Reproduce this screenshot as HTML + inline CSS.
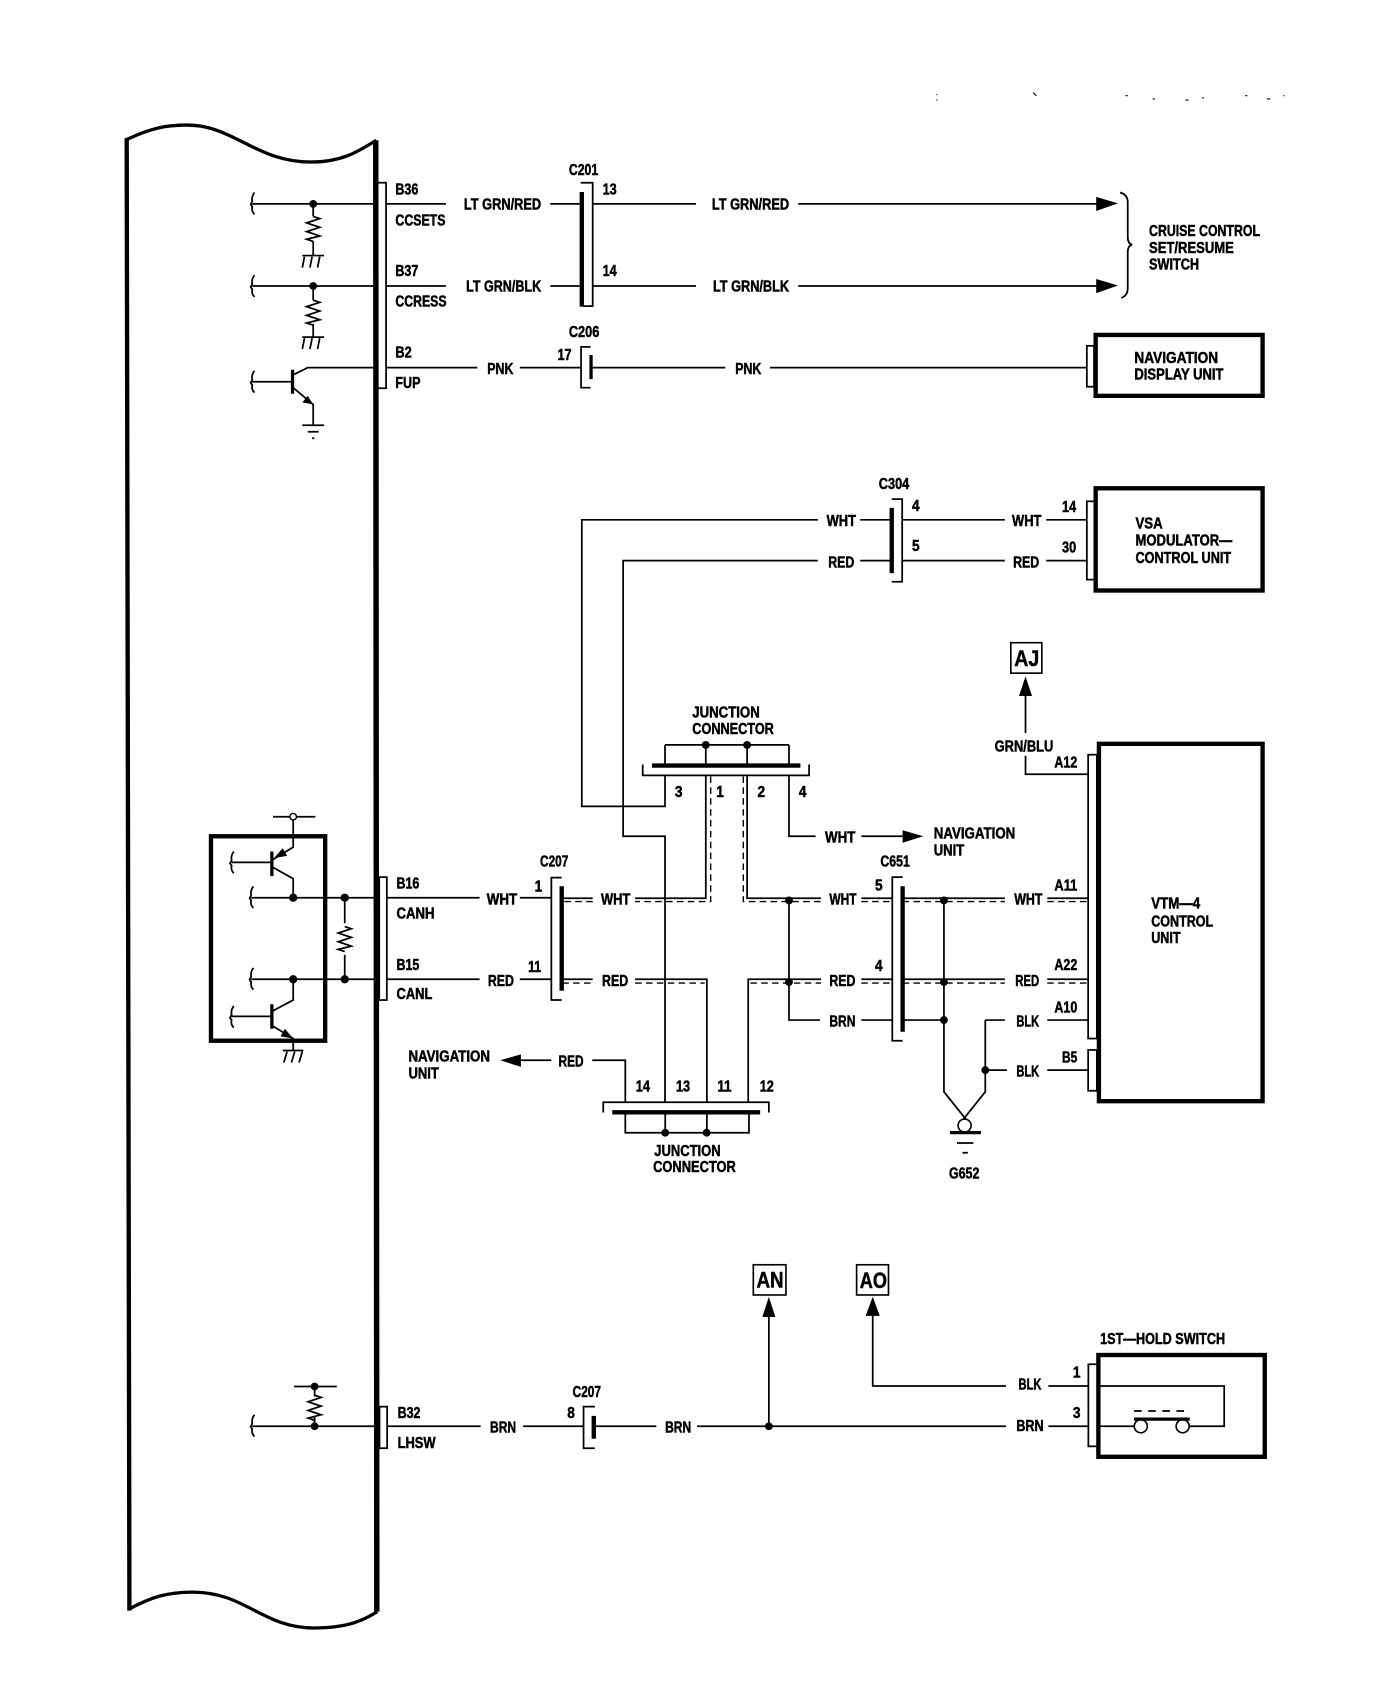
<!DOCTYPE html>
<html><head><meta charset="utf-8"><title>Wiring diagram</title>
<style>
html,body{margin:0;padding:0;background:#fff;width:1392px;height:1708px;overflow:hidden}
svg{display:block}
text{font-family:"Liberation Sans",sans-serif;font-weight:bold;font-size:14px;dominant-baseline:central;fill:#000;stroke:#000;stroke-width:.45;transform:translate(.6px,.7px)}
.w{fill:none;stroke:#000;stroke-width:1.6}
.d{fill:none;stroke:#000;stroke-width:1.3;stroke-dasharray:6 4}
.h{fill:none;stroke:#000;stroke-width:4}
.b{fill:none;stroke:#000;stroke-width:5}
.c{fill:none;stroke:#000;stroke-width:3}
.f{fill:#000;stroke:none}
</style></head><body>
<svg xmlns="http://www.w3.org/2000/svg" width="1392" height="1708" viewBox="0 0 1280 1570.6" preserveAspectRatio="none">
<defs>
<path id="br" class="w" d="M2 -10 Q-1 -6 0 -2 L-1.5 1 L0 3 Q-1 7 2 10"/>
<path id="rs" class="w" d="M0 -11 L6 -9 L-6 -5 L6 -1 L-6 3 L6 7 L-6 10 L0 12"/>
<g id="gh"><path class="w" d="M-10 0 H10 M-8 1 L-10 11 M-1 1 L-3 11 M6 1 L4 11"/></g>
</defs>

<!-- main ECU outline -->
<path class="c" d="M115 129 C140 117 155 115 172 115 C215 115 235 149 286 149 C316 149 331 138 346 129"/>
<path class="c" d="M118 1480 C140 1468 155 1464 177 1464 C226 1464 241 1497 289 1497 C321 1497 336 1489 347 1482"/>
<path class="h" d="M116.500 127 L119 1481"/>
<path class="b" d="M345.500 129 L346.500 1482"/>

<!-- top rows -->
<rect class="w" x="347" y="168" width="8" height="189"/>
<path class="w" d="M232 187.500 H345 M288 187.500 V199 M288 222 V235 M232 263 H345 M288 263 V276 M288 298 V310"/>
<use href="#br" x="232" y="187"/><use href="#br" x="232" y="263"/><use href="#br" x="232" y="351"/>
<circle class="f" cx="288" cy="187.500" r="3.600"/><circle class="f" cx="288" cy="263" r="3.600"/>
<use href="#rs" x="288" y="210"/><use href="#rs" x="288" y="287"/>
<use href="#gh" x="288" y="235"/><use href="#gh" x="288" y="310"/>
<path class="w" d="M232 351 H269 M269 345 L283 338 H345 M269 356 L288 372 V391 M278 391 H298 M283 397 H293 M287 403 H289"/>
<path class="c" d="M269 340 V362"/>
<path class="f" d="M288 372 L278 370 L283 364 Z"/>

<path class="w" d="M355 187.500 H410 M506 187.500 H533 M545 187.500 H640 M734 187.500 H1010 M355 263 H410 M506 263 H533 M545 263 H640 M734 263 H1010 M534 168 H545 V281.500 H536 M355 338 H439 M478 338 H534 M543 338 H667 M708 338 H999"/>
<path class="h" d="M535 176.500 V282"/>
<path class="f" d="M1008 181 L1028 187 L1008 194 Z M1008 256.500 L1028 262.500 L1008 269.500 Z"/>
<path class="w" d="M1030 177 Q1037 179 1037 186 V218 Q1037 224 1041 225 Q1037 226 1037 232 V265 Q1037 272 1031 274"/>
<path class="w" d="M543 319 H534.300 V356.500 H543"/><path class="c" d="M543.500 326.500 V348.600"/>
<rect class="w" x="999.400" y="318" width="6.600" height="37.600"/>
<rect class="h" x="1007.500" y="308" width="153.500" height="56"/>

<text x="363" y="174" textLength="21" lengthAdjust="spacingAndGlyphs">B36</text>
<text x="363" y="202.500" textLength="46" lengthAdjust="spacingAndGlyphs">CCSETS</text>
<text x="363" y="249" textLength="21" lengthAdjust="spacingAndGlyphs">B37</text>
<text x="363" y="277" textLength="47" lengthAdjust="spacingAndGlyphs">CCRESS</text>
<text x="363" y="324" textLength="15" lengthAdjust="spacingAndGlyphs">B2</text>
<text x="363" y="352" textLength="23" lengthAdjust="spacingAndGlyphs">FUP</text>
<text x="426" y="188" textLength="71" lengthAdjust="spacingAndGlyphs">LT GRN/RED</text>
<text x="654" y="188" textLength="71" lengthAdjust="spacingAndGlyphs">LT GRN/RED</text>
<text x="428" y="263" textLength="69" lengthAdjust="spacingAndGlyphs">LT GRN/BLK</text>
<text x="655" y="263" textLength="70" lengthAdjust="spacingAndGlyphs">LT GRN/BLK</text>
<text x="522.500" y="156" textLength="27" lengthAdjust="spacingAndGlyphs">C201</text>
<text x="553.500" y="174" textLength="13" lengthAdjust="spacingAndGlyphs">13</text>
<text x="553.500" y="249" textLength="13" lengthAdjust="spacingAndGlyphs">14</text>
<text x="522.500" y="305" textLength="28" lengthAdjust="spacingAndGlyphs">C206</text>
<text x="512" y="326" textLength="13" lengthAdjust="spacingAndGlyphs">17</text>
<text x="447.500" y="339" textLength="24" lengthAdjust="spacingAndGlyphs">PNK</text>
<text x="675.500" y="339" textLength="24" lengthAdjust="spacingAndGlyphs">PNK</text>
<text x="1056" y="212" textLength="102" lengthAdjust="spacingAndGlyphs">CRUISE CONTROL</text>
<text x="1056" y="228" textLength="78" lengthAdjust="spacingAndGlyphs">SET/RESUME</text>
<text x="1056" y="243" textLength="46" lengthAdjust="spacingAndGlyphs">SWITCH</text>
<text x="1042.500" y="329" textLength="77" lengthAdjust="spacingAndGlyphs">NAVIGATION</text>
<text x="1042.500" y="344" textLength="82" lengthAdjust="spacingAndGlyphs">DISPLAY UNIT</text>

<!-- VSA -->
<rect class="h" x="1007.500" y="449" width="153.500" height="94"/>
<rect class="w" x="999.400" y="461" width="7" height="72"/>
<path class="w" d="M752 478 H535 V741.500 H611.500 V713 M752 515.500 H573 V769 H611.500 V1014 M791 478 H819 M829 478 H924 M962 478 H999 M791 515.500 H819 M829 515.500 H924 M962 515.500 H999 M820 459 H829.600 V535 H820"/>
<path class="h" d="M820 467 V527"/>
<text x="759.500" y="479" textLength="27" lengthAdjust="spacingAndGlyphs">WHT</text>
<text x="761" y="517" textLength="24" lengthAdjust="spacingAndGlyphs">RED</text>
<text x="930" y="479" textLength="27" lengthAdjust="spacingAndGlyphs">WHT</text>
<text x="931" y="517" textLength="24" lengthAdjust="spacingAndGlyphs">RED</text>
<text x="807.500" y="445" textLength="28" lengthAdjust="spacingAndGlyphs">C304</text>
<text x="838" y="465" textLength="7" lengthAdjust="spacingAndGlyphs">4</text>
<text x="838" y="502" textLength="7" lengthAdjust="spacingAndGlyphs">5</text>
<text x="976" y="466" textLength="13" lengthAdjust="spacingAndGlyphs">14</text>
<text x="976" y="503" textLength="13" lengthAdjust="spacingAndGlyphs">30</text>
<text x="1043.500" y="481" textLength="25" lengthAdjust="spacingAndGlyphs">VSA</text>
<text x="1043.500" y="497" textLength="89" lengthAdjust="spacingAndGlyphs">MODULATOR—</text>
<text x="1043.500" y="513" textLength="88" lengthAdjust="spacingAndGlyphs">CONTROL UNIT</text>

<!-- top junction connector -->
<path class="w" d="M591 703 V713 H744 V703 M611.500 685 H725.500 M611.500 685 V704 M649 685 V704 M687 685 V704 M725.500 685 V704"/>
<path class="h" d="M599.500 704 H736"/>
<circle class="f" cx="649" cy="685" r="3.600"/><circle class="f" cx="687" cy="685" r="3.600"/>
<text x="636" y="655" textLength="62" lengthAdjust="spacingAndGlyphs">JUNCTION</text>
<text x="636" y="670" textLength="75" lengthAdjust="spacingAndGlyphs">CONNECTOR</text>
<text x="620" y="728" textLength="7" lengthAdjust="spacingAndGlyphs">3</text>
<text x="658" y="728" textLength="7" lengthAdjust="spacingAndGlyphs">1</text>
<text x="696" y="728" textLength="7" lengthAdjust="spacingAndGlyphs">2</text>
<text x="734" y="728" textLength="7" lengthAdjust="spacingAndGlyphs">4</text>
<path class="w" d="M649 713 V826 H584 M545 826 H517 M687 713 V826 H755 M792 826 H820 M830 826 H924 M963 826 H1000"/>
<path class="d" d="M653.500 714 V829 H584 M545 829 H517 M683.500 714 V829 H755 M792 829 H820 M830 829 H924 M963 829 H1000"/>
<path class="w" d="M725.500 713 V769 H750 M792 769 H831"/>
<path class="f" d="M830 763.500 L849 769 L830 775 Z"/>
<text x="758" y="770" textLength="28" lengthAdjust="spacingAndGlyphs">WHT</text>
<text x="858" y="766" textLength="75" lengthAdjust="spacingAndGlyphs">NAVIGATION</text>
<text x="858" y="782" textLength="28" lengthAdjust="spacingAndGlyphs">UNIT</text>

<!-- CAN box -->
<rect class="h" x="194" y="769" width="105" height="188"/>
<path class="w" d="M231 825.500 H345 M231 900.500 H345 M213 793 H250 M250 791 L269.600 779 V751 M251 751 H290 M250 797 L269.600 808 V825.500 M269.600 900.500 V919.600 L250 930 M213 934.600 H250 M250 943 L269.600 955 V966 M317 825.500 V849 M317 878 V900.500"/>
<path class="c" d="M250 783 V805.600 M250 923.500 V946"/>
<path class="f" d="M252 789 L260 780 L264 787 Z M269.600 955 L258 953 L262 946 Z"/>
<circle cx="269.600" cy="751" r="3" fill="#fff" stroke="#000" stroke-width="1.300"/>
<circle class="f" cx="269.600" cy="825.500" r="3.800"/><circle class="f" cx="269.600" cy="900.500" r="3.800"/>
<circle class="f" cx="317" cy="825.500" r="3.800"/><circle class="f" cx="317" cy="900.500" r="3.800"/>
<use href="#br" x="213" y="793"/><use href="#br" x="231" y="825"/><use href="#br" x="231" y="900"/><use href="#br" x="213" y="935"/>
<use href="#rs" x="317" y="863"/>
<path class="w" d="M260 966 H279 M264 967 L261 977 M271 967 L268 977 M278 967 L275 977"/>
<rect class="w" x="348.700" y="806.600" width="7" height="113"/>
<text x="364" y="812" textLength="21" lengthAdjust="spacingAndGlyphs">B16</text>
<text x="364" y="840" textLength="35" lengthAdjust="spacingAndGlyphs">CANH</text>
<text x="364" y="887" textLength="21" lengthAdjust="spacingAndGlyphs">B15</text>
<text x="364" y="914" textLength="33" lengthAdjust="spacingAndGlyphs">CANL</text>
<path class="w" d="M355 825.500 H441 M478 825.500 H507 M355 900.500 H441 M478 900.500 H507 M516.500 807 H507 V919.600 H516.500"/>
<path class="h" d="M516.500 815 V911"/>
<text x="447" y="827" textLength="28" lengthAdjust="spacingAndGlyphs">WHT</text>
<text x="448" y="902" textLength="24" lengthAdjust="spacingAndGlyphs">RED</text>
<text x="552" y="827" textLength="27" lengthAdjust="spacingAndGlyphs">WHT</text>
<text x="553" y="902" textLength="24" lengthAdjust="spacingAndGlyphs">RED</text>
<text x="496" y="792" textLength="26" lengthAdjust="spacingAndGlyphs">C207</text>
<text x="491" y="815" textLength="7" lengthAdjust="spacingAndGlyphs">1</text>
<text x="485" y="889" textLength="12" lengthAdjust="spacingAndGlyphs">11</text>

<!-- RED row -->
<path class="w" d="M517 900.500 H545 M584 900.500 H650 V1014 M755 900.500 H688 V1014 M792 900.500 H820 M830 900.500 H924 M963 900.500 H1000"/>
<path class="d" d="M517 904 H545 M584 904 H648 M690 904 H755 M792 904 H820 M830 904 H924 M963 904 H1000"/>
<path class="w" d="M725.500 826 V938 H754 M792 938 H820 M830 938 H868"/>
<circle class="f" cx="725.500" cy="828" r="3.600"/><circle class="f" cx="725.500" cy="903" r="3.600"/>
<text x="762" y="827" textLength="25" lengthAdjust="spacingAndGlyphs">WHT</text>
<text x="762" y="902" textLength="24" lengthAdjust="spacingAndGlyphs">RED</text>
<text x="762" y="939" textLength="24" lengthAdjust="spacingAndGlyphs">BRN</text>

<!-- C651 -->
<path class="w" d="M830 806.600 H820.500 V957 H830"/>
<path class="h" d="M830 815 V948.700"/>
<text x="809" y="792" textLength="27" lengthAdjust="spacingAndGlyphs">C651</text>
<text x="804" y="814" textLength="7" lengthAdjust="spacingAndGlyphs">5</text>
<text x="804" y="888" textLength="7" lengthAdjust="spacingAndGlyphs">4</text>
<path class="w" d="M868 828 V1004 L888 1029 M906 938 V1004 L886 1029 M906 938 H924 M906 984 H926 M963 938 H1000 M963 984 H1000"/>
<circle class="f" cx="868" cy="828" r="3.600"/><circle class="f" cx="868" cy="903" r="3.600"/><circle class="f" cx="868" cy="938" r="3.600"/><circle class="f" cx="906" cy="984" r="3.600"/>
<circle cx="887" cy="1035" r="6" fill="#fff" stroke="#000" stroke-width="1.500"/>
<path class="c" d="M873.500 1041.500 H902"/>
<path class="w" d="M880 1051 H895 M885 1060 H890"/>
<text x="872" y="1079" textLength="28" lengthAdjust="spacingAndGlyphs">G652</text>
<text x="932" y="827" textLength="26" lengthAdjust="spacingAndGlyphs">WHT</text>
<text x="933" y="902" textLength="22" lengthAdjust="spacingAndGlyphs">RED</text>
<text x="934" y="939" textLength="21" lengthAdjust="spacingAndGlyphs">BLK</text>
<text x="934" y="985" textLength="21" lengthAdjust="spacingAndGlyphs">BLK</text>

<!-- VTM-4 -->
<rect class="h" x="1010.500" y="684" width="150.500" height="328.600"/>
<rect class="w" x="1000.600" y="694" width="8" height="261"/>
<rect class="w" x="1000.600" y="965.500" width="8" height="37.500"/>
<path class="w" d="M1000 712 H943 V695 M943 674 V638"/>
<path class="f" d="M943 622 L937 640 L949 640 Z"/>
<rect x="929.500" y="591" width="28.500" height="28" fill="#fff" stroke="#000" stroke-width="1.500"/>
<text x="943.500" y="605" style="font-size:20px" text-anchor="middle" textLength="23" lengthAdjust="spacingAndGlyphs">AJ</text>
<text x="914" y="686" textLength="54" lengthAdjust="spacingAndGlyphs">GRN/BLU</text>
<text x="969" y="701" textLength="21" lengthAdjust="spacingAndGlyphs">A12</text>
<text x="969" y="814" textLength="21" lengthAdjust="spacingAndGlyphs">A11</text>
<text x="969" y="887" textLength="21" lengthAdjust="spacingAndGlyphs">A22</text>
<text x="969" y="926" textLength="21" lengthAdjust="spacingAndGlyphs">A10</text>
<text x="976" y="972" textLength="14" lengthAdjust="spacingAndGlyphs">B5</text>
<text x="1058" y="830.500" textLength="45" lengthAdjust="spacingAndGlyphs">VTM—4</text>
<text x="1058" y="847" textLength="57" lengthAdjust="spacingAndGlyphs">CONTROL</text>
<text x="1058" y="862.500" textLength="27" lengthAdjust="spacingAndGlyphs">UNIT</text>

<!-- bottom junction connector -->
<path class="w" d="M554.700 1023 V1013.600 H707 V1023 M575 1023 V1041.600 H688.700 V1023 M611.700 1023 V1041.600 M650 1023 V1041.600 M575 1014 V975 H544.600 M507 975 H478"/>
<path class="h" d="M563 1022.800 H699"/>
<circle class="f" cx="611.700" cy="1041.600" r="3.600"/><circle class="f" cx="649.800" cy="1041.600" r="3.600"/>
<path class="f" d="M460 975 L479 969.500 L479 981 Z"/>
<text x="513" y="976" textLength="23" lengthAdjust="spacingAndGlyphs">RED</text>
<text x="375" y="971.500" textLength="75" lengthAdjust="spacingAndGlyphs">NAVIGATION</text>
<text x="375" y="987" textLength="28" lengthAdjust="spacingAndGlyphs">UNIT</text>
<text x="584" y="999" textLength="13" lengthAdjust="spacingAndGlyphs">14</text>
<text x="621" y="999" textLength="13" lengthAdjust="spacingAndGlyphs">13</text>
<text x="659" y="999" textLength="13" lengthAdjust="spacingAndGlyphs">11</text>
<text x="698" y="999" textLength="13" lengthAdjust="spacingAndGlyphs">12</text>
<text x="601" y="1058" textLength="61" lengthAdjust="spacingAndGlyphs">JUNCTION</text>
<text x="600" y="1073" textLength="76" lengthAdjust="spacingAndGlyphs">CONNECTOR</text>

<!-- bottom row -->
<path class="w" d="M232 1311.500 H345 M289.300 1275 V1284 M289.300 1303 V1311.500 M270.400 1275 H309.700 M356 1311.500 H442 M481 1311.500 H536.600 M546 1311.500 H603.500 M641 1311.500 H925 M964 1311.500 H1001 M707 1311.500 V1210 M802.500 1210 V1274.500 H925 M964 1274.500 H1001 M547 1293.500 H536.600 V1331.700 H547"/>
<use href="#br" x="232" y="1311"/>
<circle class="f" cx="289.300" cy="1275" r="3.600"/><circle class="f" cx="289.300" cy="1311.500" r="3.600"/><circle class="f" cx="707" cy="1311.500" r="3.600"/>
<use href="#rs" x="289.300" y="1294"/>
<rect class="w" x="349" y="1293.500" width="7" height="38.200"/>
<path class="h" d="M546 1302 V1323"/>
<path class="f" d="M707 1192.600 L701 1211 L713 1211 Z M802.500 1192.400 L796 1210 L809 1210 Z"/>
<rect x="692.700" y="1163" width="30" height="27.800" fill="#fff" stroke="#000" stroke-width="1.500"/>
<rect x="787.700" y="1163" width="29.300" height="27.800" fill="#fff" stroke="#000" stroke-width="1.500"/>
<text x="707.500" y="1176.500" style="font-size:20px" text-anchor="middle" textLength="25" lengthAdjust="spacingAndGlyphs">AN</text>
<text x="802.500" y="1177" style="font-size:20px" text-anchor="middle" textLength="25" lengthAdjust="spacingAndGlyphs">AO</text>
<text x="365" y="1299" textLength="21" lengthAdjust="spacingAndGlyphs">B32</text>
<text x="365" y="1326.500" textLength="35" lengthAdjust="spacingAndGlyphs">LHSW</text>
<text x="450" y="1312.500" textLength="24" lengthAdjust="spacingAndGlyphs">BRN</text>
<text x="611" y="1312.500" textLength="24" lengthAdjust="spacingAndGlyphs">BRN</text>
<text x="526" y="1280" textLength="26" lengthAdjust="spacingAndGlyphs">C207</text>
<text x="521" y="1299" textLength="7" lengthAdjust="spacingAndGlyphs">8</text>
<text x="936" y="1273" textLength="21" lengthAdjust="spacingAndGlyphs">BLK</text>
<text x="934" y="1311" textLength="25" lengthAdjust="spacingAndGlyphs">BRN</text>
<text x="986" y="1262" textLength="7" lengthAdjust="spacingAndGlyphs">1</text>
<text x="986" y="1299" textLength="7" lengthAdjust="spacingAndGlyphs">3</text>
<text x="1011" y="1231" textLength="115" lengthAdjust="spacingAndGlyphs">1ST—HOLD SWITCH</text>

<!-- 1ST-HOLD switch -->
<rect class="h" x="1010" y="1246" width="153" height="93.600"/>
<rect class="w" x="1000.800" y="1254.500" width="9" height="75.500"/>
<path class="w" d="M1010 1274.500 H1125.700 V1311.500 H1093 M1010 1311.500 H1043"/>
<circle cx="1049" cy="1311.500" r="6" fill="#fff" stroke="#000" stroke-width="1.500"/>
<circle cx="1087.500" cy="1311.500" r="6" fill="#fff" stroke="#000" stroke-width="1.500"/>
<path class="c" d="M1042.800 1305 H1094"/>
<path class="w" style="stroke-dasharray:7 6" d="M1042.800 1297.500 H1094"/>

<!-- scan specks -->
<path class="w" style="stroke-width:1" d="M861 87 h1 M861 92 h1 M950 85 l3 3 M1035 88 h2 M1060 91 h2 M1090 92 h3 M1105 90 h2 M1145 88 h2 M1165 91 h3 M1180 88 h1"/>
</svg>
</body></html>
